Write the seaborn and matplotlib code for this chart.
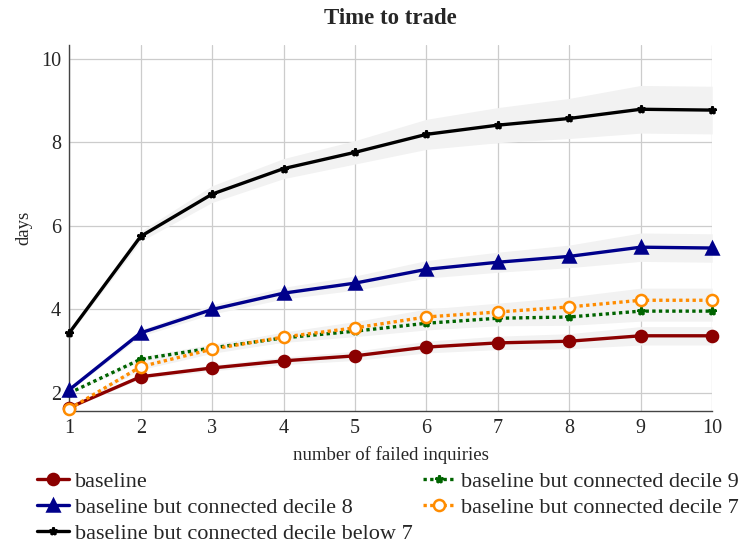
import numpy as np
import pandas as pd
from matplotlib import pyplot as plt
import seaborn as sns

sns.set_style("white")
plt.rcParams['font.family'] = ['Liberation Serif', 'DejaVu Serif']

# x 축: 실패한 문의 횟수
inquiries = [1, 2, 3, 4, 5, 6, 7, 8, 9, 10]

# 각 시리즈 평균값
baseline = [1.65, 2.39, 2.60, 2.77, 2.89, 3.10, 3.20, 3.24, 3.37, 3.37]
decile_9 = [2.00, 2.81, 3.08, 3.32, 3.48, 3.67, 3.79, 3.82, 3.96, 3.96]
decile_8 = [2.08, 3.44, 4.00, 4.39, 4.63, 4.96, 5.13, 5.27, 5.49, 5.47]
decile_7 = [1.62, 2.63, 3.05, 3.34, 3.56, 3.82, 3.94, 4.06, 4.22, 4.22]
decile_below7 = [3.44, 5.75, 6.76, 7.37, 7.76, 8.19, 8.41, 8.57, 8.79, 8.77]

# 신뢰구간 반폭 (회색 띠)
err_baseline = [0.02, 0.05, 0.07, 0.09, 0.11, 0.14, 0.16, 0.18, 0.22, 0.22]
err_decile_9 = [0.02, 0.06, 0.09, 0.11, 0.13, 0.16, 0.18, 0.20, 0.24, 0.24]
err_decile_8 = [0.03, 0.08, 0.11, 0.14, 0.17, 0.21, 0.24, 0.27, 0.34, 0.34]
err_decile_7 = [0.02, 0.07, 0.10, 0.12, 0.15, 0.19, 0.21, 0.24, 0.29, 0.29]
err_decile_below7 = [0.05, 0.12, 0.20, 0.24, 0.28, 0.36, 0.42, 0.48, 0.57, 0.57]

labels = ["baseline", "baseline but connected decile 8",
          "baseline but connected decile below 7",
          "baseline but connected decile 9", "baseline but connected decile 7"]
values = [baseline, decile_8, decile_below7, decile_9, decile_7]
errors = [err_baseline, err_decile_8, err_decile_below7, err_decile_9, err_decile_7]

styles = {
    "baseline": dict(color="#8b0000", marker="o", ls="-", ms=8, mfc="#8b0000"),
    "baseline but connected decile 8": dict(color="#00008b", marker="^", ls="-", ms=9, mfc="#00008b"),
    "baseline but connected decile below 7": dict(color="black", marker="*", ls="-", ms=6, mfc="black"),
    "baseline but connected decile 9": dict(color="#006400", marker="*", ls=(0, (1, 1)), ms=6, mfc="#006400"),
    "baseline but connected decile 7": dict(color="#ff8c00", marker="o", ls=(0, (1, 1)), ms=8, mfc="white"),
}

fig, ax = plt.subplots(figsize=(7.45, 5.46), dpi=100)
fig.subplots_adjust(left=0.093, right=0.956, top=0.917, bottom=0.248)

# 회색 띠 먼저
for lab, v, e in zip(labels, values, errors):
    v = np.array(v)
    e = np.array(e)
    ax.fill_between(inquiries, v - e, v + e, color="#f2f2f2", lw=0, zorder=1)

draw_order = [0, 3, 4, 1, 2]
for i in draw_order:
    lab = labels[i]
    st = styles[lab]
    df = pd.DataFrame({"x": inquiries, "y": values[i]})
    sns.lineplot(ax=ax, data=df, x="x", y="y", color=st["color"], lw=2.4,
                 linestyle=st["ls"], marker=st["marker"], markersize=st["ms"],
                 markerfacecolor=st["mfc"], markeredgecolor=st["color"],
                 markeredgewidth=1.8, label=lab, zorder=3, clip_on=False)

ax.set_xlim(1, 10)
ax.set_ylim(1.58, 10.32)
ax.set_xticks(inquiries)
ax.set_yticks([2, 4, 6, 8, 10])
ax.grid(True, color="#cccccc", lw=0.9)
ax.set_axisbelow(True)
for s in ["top", "right"]:
    ax.spines[s].set_visible(False)
for s in ["left", "bottom"]:
    ax.spines[s].set_color("#444444")
    ax.spines[s].set_linewidth(1.0)
ax.tick_params(axis="both", direction="in", length=5, color="#555555", labelsize=14.5, pad=6)

ax.set_title("Time to trade", fontsize=16.5, fontweight="bold", pad=15)
ax.set_xlabel("number of failed inquiries", fontsize=13.5, labelpad=6)
ax.set_ylabel("days", fontsize=13.5, labelpad=6)

# 범례: pgfplots 처럼 두 열이 겹치게 두 개로 나눔
handles, labs = ax.get_legend_handles_labels()
hmap = dict(zip(labs, handles))
if ax.get_legend():
    ax.get_legend().remove()
leg_kw = dict(frameon=False, fontsize=16, handlelength=1.44, handletextpad=0.27,
              labelspacing=0.24, borderpad=0, borderaxespad=0, loc="upper left")
fig.legend([hmap[l] for l in labels[:3]], labels[:3],
           bbox_to_anchor=(0.0497, 0.137), **leg_kw)
fig.legend([hmap[l] for l in labels[3:]], labels[3:],
           bbox_to_anchor=(0.568, 0.137), **leg_kw)

plt.savefig("out.png", dpi=100)
